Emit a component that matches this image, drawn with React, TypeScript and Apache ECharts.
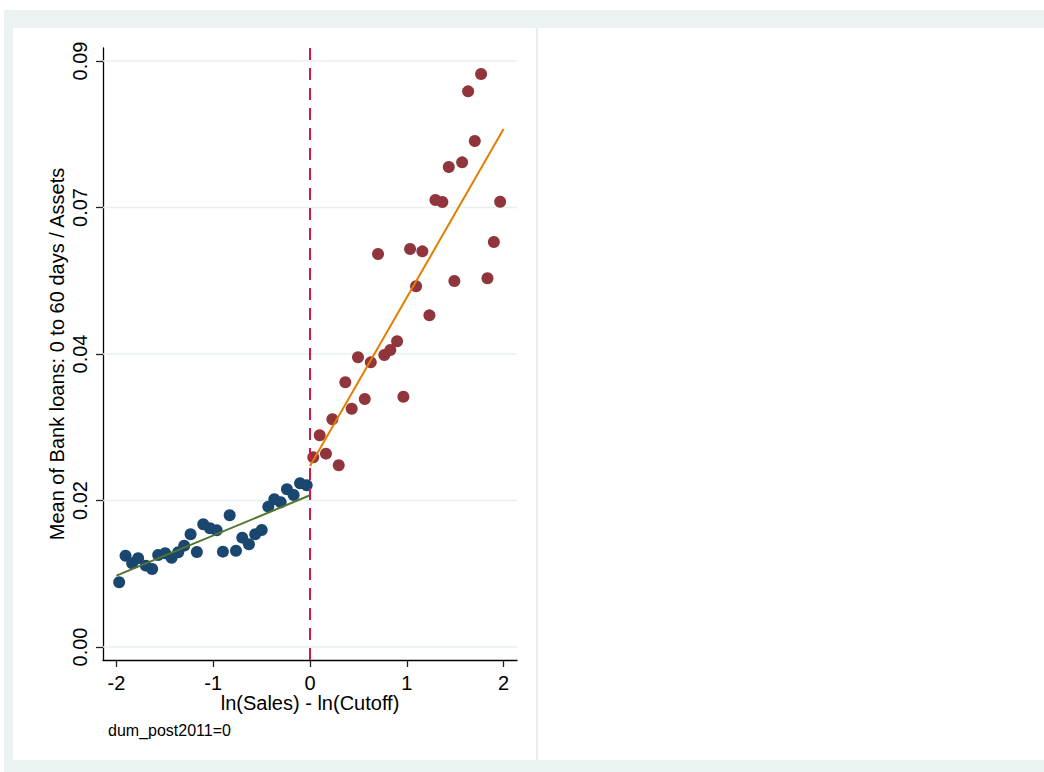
import React, { useEffect, useRef } from "react";
import * as echarts from "echarts";

const blueX = [-1.972, -1.906, -1.838, -1.776, -1.696, -1.631, -1.569, -1.496, -1.43, -1.362, -1.3, -1.234, -1.169, -1.103, -1.034, -0.965, -0.9, -0.83, -0.765, -0.7, -0.631, -0.566, -0.499, -0.431, -0.369, -0.303, -0.238, -0.169, -0.103, -0.034];
const blueY = [0.00994, 0.01402, 0.01285, 0.01362, 0.01249, 0.01198, 0.01413, 0.01439, 0.01371, 0.01454, 0.01556, 0.01731, 0.01459, 0.01884, 0.01823, 0.01792, 0.01464, 0.02023, 0.01479, 0.01679, 0.01577, 0.01731, 0.01797, 0.02155, 0.02268, 0.02222, 0.02422, 0.02334, 0.02514, 0.02483];
const redX = [0.034, 0.1, 0.165, 0.231, 0.297, 0.365, 0.431, 0.496, 0.566, 0.628, 0.703, 0.768, 0.83, 0.9, 0.965, 1.034, 1.096, 1.161, 1.234, 1.296, 1.368, 1.434, 1.492, 1.572, 1.634, 1.703, 1.768, 1.834, 1.9, 1.965];
const redY = [0.02913, 0.03251, 0.02969, 0.03497, 0.02791, 0.04065, 0.0366, 0.04449, 0.03809, 0.04372, 0.06036, 0.04485, 0.04561, 0.04695, 0.03844, 0.06112, 0.0554, 0.06077, 0.05094, 0.06865, 0.06834, 0.07372, 0.05621, 0.07444, 0.08534, 0.07771, 0.088, 0.05663, 0.0622, 0.06839];
const greenFit = [[-2.0, 0.01095], [0, 0.0233]];
const orangeFit = [[0, 0.0278], [2.0, 0.07955]];
const cutoffLine = [[0, -0.002], [0, 0.092]];
const xMin = -2.139;
const xMax = 2.139;
const yMin = -0.002;
const yMax = 0.092;
const xTickValues = [-2, -1, 0, 1, 2];
const xTickLabels = ["-2", "-1", "0", "1", "2"];
const yTickValues = [0, 0.0225, 0.045, 0.0675, 0.09];
const yTickLabels = ["0.00", "0.02", "0.04", "0.07", "0.09"];

const FONT = "'Liberation Sans', Arial, Helvetica, sans-serif";

export default function App() {
  const ref = useRef<HTMLDivElement>(null);
  useEffect(() => {
    if (!ref.current) return;
    const chart = echarts.init(ref.current, null, { renderer: "svg" });
    const blueData = blueX.map((x, i) => [x, blueY[i]]);
    const redData = redX.map((x, i) => [x, redY[i]]);
    const gridSeries = yTickValues.map((v) => ({
      type: "line",
      data: [[xMin, v], [xMax, v]],
      symbol: "none",
      silent: true,
      lineStyle: { color: "#e8eff2", width: 1.6 },
      z: 1,
    }));
    chart.setOption({
      animation: false,
      backgroundColor: "#ffffff",
      textStyle: { fontFamily: FONT },
      grid: { left: 103, right: 527, top: 48, bottom: 112, containLabel: false },
      graphic: [
        { type: "rect", z: -100, shape: { x: 4, y: 10, width: 1040, height: 762 }, style: { fill: "#eaf2f3" }, silent: true },
        { type: "rect", z: -99, shape: { x: 13, y: 28, width: 1031, height: 732 }, style: { fill: "#ffffff" }, silent: true },
        { type: "rect", z: -98, shape: { x: 536, y: 28, width: 2, height: 732 }, style: { fill: "#e8eef1" }, silent: true },
        { type: "text", left: 108, top: 722, style: { text: "dum_post2011=0", font: `16px ${FONT}`, fill: "#000" } },
      ],
      xAxis: {
        type: "value",
        min: xMin,
        max: xMax,
        name: "ln(Sales) - ln(Cutoff)",
        nameLocation: "middle",
        nameGap: 34,
        nameMoveOverlap: false,
        nameTextStyle: { fontSize: 20, lineHeight: 18, color: "#000", fontFamily: FONT },
        axisLine: { show: true, onZero: false, lineStyle: { color: "#000", width: 1.3 } },
        axisTick: { show: true, length: 7, customValues: xTickValues, lineStyle: { color: "#222", width: 1.3 } },
        axisLabel: {
          customValues: xTickValues,
          margin: 14,
          fontSize: 20,
          lineHeight: 18,
          color: "#000",
          fontFamily: FONT,
          formatter: (v: number) => {
            const i = xTickValues.findIndex((t) => Math.abs(t - v) < 1e-9);
            return i >= 0 ? xTickLabels[i] : "";
          },
        },
        splitLine: { show: false },
        minorSplitLine: { show: false },
      },
      yAxis: {
        type: "value",
        min: yMin,
        max: yMax,
        name: "Mean of Bank loans: 0 to 60 days / Assets",
        nameLocation: "middle",
        nameRotate: 90,
        nameGap: 36,
        nameMoveOverlap: false,
        nameTextStyle: { fontSize: 20, color: "#000", fontFamily: FONT },
        axisLine: { show: true, onZero: false, lineStyle: { color: "#000", width: 1.3 } },
        axisTick: { show: true, length: 7, customValues: yTickValues, lineStyle: { color: "#222", width: 1.3 } },
        axisLabel: {
          customValues: yTickValues,
          rotate: 90,
          margin: 13,
          fontSize: 20,
          color: "#000",
          fontFamily: FONT,
          formatter: (v: number) => {
            const i = yTickValues.findIndex((t) => Math.abs(t - v) < 1e-9);
            return i >= 0 ? yTickLabels[i] : "";
          },
        },
        splitLine: { show: false },
        minorSplitLine: { show: false },
      },
      series: [
        ...gridSeries,
        {
          type: "scatter",
          data: blueData,
          symbol: "circle",
          symbolSize: 12,
          itemStyle: { color: "#1a476f", opacity: 1 },
          z: 3,
        },
        {
          type: "scatter",
          data: redData,
          symbol: "circle",
          symbolSize: 12,
          itemStyle: { color: "#90353b", opacity: 1 },
          z: 3,
        },
        {
          type: "line",
          data: greenFit,
          symbol: "none",
          lineStyle: { color: "#55752f", width: 2 },
          z: 4,
        },
        {
          type: "line",
          data: orangeFit,
          symbol: "none",
          lineStyle: { color: "#e37e00", width: 2 },
          z: 4,
        },
        {
          type: "line",
          data: cutoffLine,
          symbol: "none",
          lineStyle: { color: "#d3174b", width: 2, type: [12, 8] },
          z: 5,
        },
      ],
    });
    return () => chart.dispose();
  }, []);
  return (
    <div
      ref={ref}
      style={{ position: "absolute", left: 0, top: 0, width: 1044, height: 772 }}
    />
  );
}
